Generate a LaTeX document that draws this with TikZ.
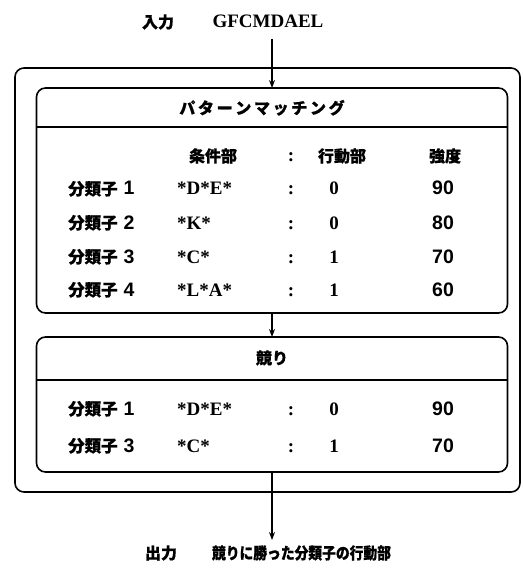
\documentclass[tikz,border=0pt]{standalone}
\usepackage{fontspec}
\setmainfont{Liberation Serif}
\newfontfamily\sansf{Liberation Sans}
\newfontfamily\jpf{Noto Sans CJK JP}[BoldFeatures={FakeBold=0.6}]
\usetikzlibrary{arrows.meta}
\tikzset{
  box/.style={draw, rounded corners=9pt, line width=1.6pt, outer sep=0pt, inner sep=0pt},
  rule/.style={line width=1.4pt},
  jt/.style={font=\jpf\bfseries\fontsize{16}{18}\selectfont, inner sep=0pt},
  se/.style={font=\rmfamily\bfseries\fontsize{19}{20}\selectfont, inner sep=0pt},
  sa/.style={font=\sansf\bfseries\fontsize{19.5}{20}\selectfont, inner sep=0pt},
  arr/.style={-{Stealth[length=8pt,width=6pt]}, line width=1.3pt}
}
\newcommand{\cls}[1]{{\jpf\bfseries\fontsize{16.5}{18}\selectfont 分類子}\hspace{6pt}{\sansf\bfseries #1}}
\begin{document}
\begin{tikzpicture}[x=1pt,y=-1pt]
\useasboundingbox (0,0) rectangle (522,569);
% top input
\node[jt, anchor=base] (inlab) at (158,28) {入力};
\node[se, anchor=base] (instr) at (268,28) {GFCMDAEL};
\coordinate (instart) at (272,39);
% boxes
\node[box, minimum width=505, minimum height=424] (outer) at (267.5,280) {};
\node[box, minimum width=471, minimum height=225] (pm) at (272,200.5) {};
\node[box, minimum width=471, minimum height=135] (bid) at (272,404.5) {};
\coordinate (pmdl) at (36.5,127);
\coordinate (pmdr) at (507.5,127);
\coordinate (bddl) at (36.5,380);
\coordinate (bddr) at (507.5,380);
\draw[rule] (pmdl) -- (pmdr);
\draw[rule] (bddl) -- (bddr);
% headers
\node[jt, anchor=base] (pmtitle) at (262,114) {パ\,タ\,ー\,ン\,マ\,ッ\,チ\,ン\,グ};
\node[jt, anchor=base] (bidtitle) at (272,364) {競り};
% column headings
\node[jt, anchor=base] (h1) at (213,162) {条件部};
\node[se, anchor=base] (h2) at (291,162) {:};
\node[jt, anchor=base] (h3) at (342,162) {行動部};
\node[jt, anchor=base] (h4) at (445,162) {強度};
% rows of pattern matching
\node[sa, anchor=base west] (c1) at (68,195) {\cls{1}};
\node[se, anchor=base west] (p1) at (177,195) {*D*E*};
\node[se, anchor=base] (k1) at (291,195) {:};
\node[se, anchor=base] (a1) at (334,195) {0};
\node[sa, anchor=base] (s1) at (443,195) {90};

\node[sa, anchor=base west] (c2) at (68,229) {\cls{2}};
\node[se, anchor=base west] (p2) at (177,229) {*K*};
\node[se, anchor=base] (k2) at (291,229) {:};
\node[se, anchor=base] (a2) at (334,229) {0};
\node[sa, anchor=base] (s2) at (443,229) {80};

\node[sa, anchor=base west] (c3) at (68,263) {\cls{3}};
\node[se, anchor=base west] (p3) at (177,263) {*C*};
\node[se, anchor=base] (k3) at (291,263) {:};
\node[se, anchor=base] (a3) at (334,263) {1};
\node[sa, anchor=base] (s3) at (443,263) {70};

\node[sa, anchor=base west] (c4) at (68,296) {\cls{4}};
\node[se, anchor=base west] (p4) at (177,296) {*L*A*};
\node[se, anchor=base] (k4) at (291,296) {:};
\node[se, anchor=base] (a4) at (334,296) {1};
\node[sa, anchor=base] (s4) at (443,296) {60};
% rows of bidding
\node[sa, anchor=base west] (d1) at (68,415) {\cls{1}};
\node[se, anchor=base west] (q1) at (177,415) {*D*E*};
\node[se, anchor=base] (l1) at (291,415) {:};
\node[se, anchor=base] (b1) at (334,415) {0};
\node[sa, anchor=base] (t1) at (443,415) {90};

\node[sa, anchor=base west] (d3) at (68,452) {\cls{3}};
\node[se, anchor=base west] (q3) at (177,452) {*C*};
\node[se, anchor=base] (l3) at (291,452) {:};
\node[se, anchor=base] (b3) at (334,452) {1};
\node[sa, anchor=base] (t3) at (443,452) {70};
% output
\coordinate (outend) at (272,540);
\node[jt, anchor=base] (outlab) at (161,559) {出力};
\node[jt, anchor=base] (outtxt) at (301.5,559) {\scalebox{0.86}[1]{競りに勝った分類子の行動部}};
% arrows
\draw[arr] (instart) -- (pm.north);
\draw[arr] (pm.south) -- (bid.north);
\draw[arr] (bid.south) -- (outend);
\end{tikzpicture}
\end{document}
